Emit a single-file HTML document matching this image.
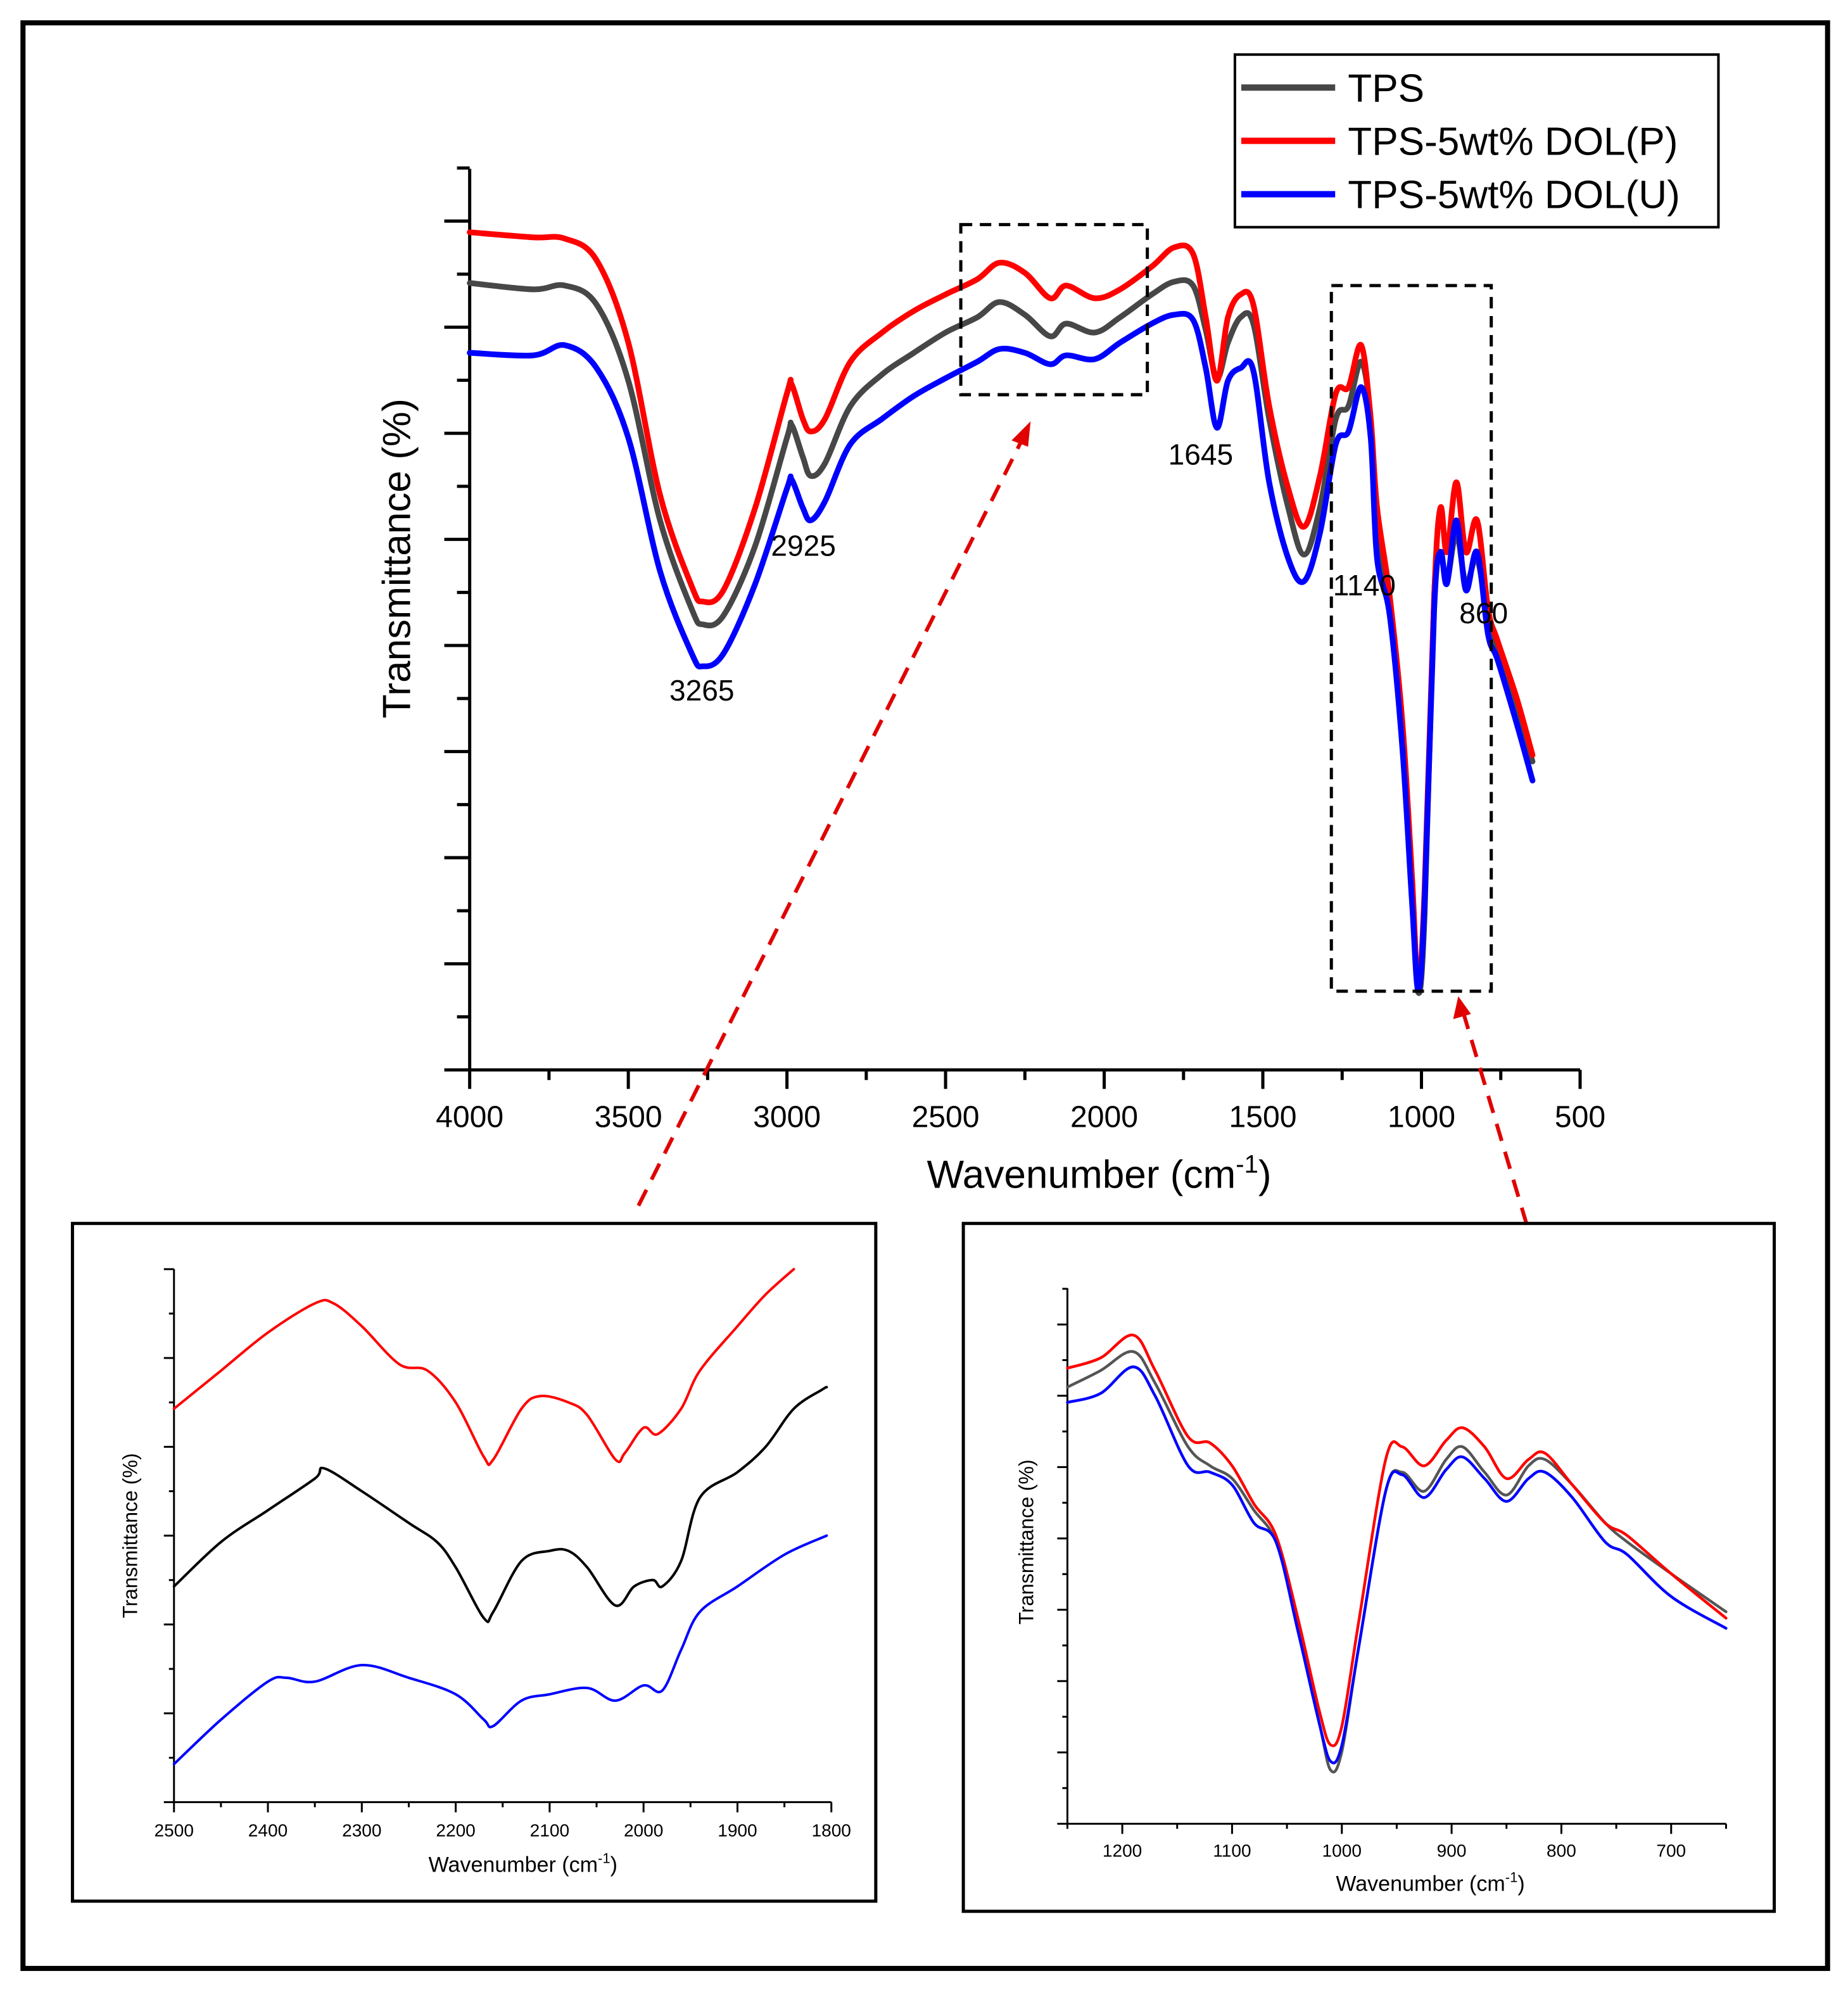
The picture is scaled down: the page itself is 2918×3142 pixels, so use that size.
<!DOCTYPE html>
<html><head><meta charset="utf-8"><style>
html,body{margin:0;padding:0;background:#fff}
svg{display:block}
text{font-family:"Liberation Sans",Arial,sans-serif}
</style></head><body>
<svg id="fig" width="2918" height="3142" viewBox="0 0 1456 1568" xmlns="http://www.w3.org/2000/svg">
<rect x="18" y="18" width="1422" height="1533" fill="none" stroke="#000" stroke-width="4"/>
<g id="main"></g>
<g id="in1"></g>
<g id="in2"></g>
</svg>
<script>
// ---- main chart data ----
const mainX=[4000,3800,3700,3600,3500,3400,3300,3265,3200,3100,3000,2985,2950,2925,2880,2800,2700,2600,2500,2400,2330,2250,2170,2120,2030,1950,1850,1780,1720,1680,1645,1610,1570,1530,1480,1420,1370,1320,1270,1230,1190,1160,1140,1100,1060,1030,1010,990,960,940,920,890,860,825,790,760,700,650];
const mainTPS=[620,615,618,603,543,433,363,351,358,413,498,508,483,468,478,523,548,565,581,593,605,595,578,588,581,593,611,621,618,583,545,573,593,588,513,443,406,443,513,523,558,513,413,363,263,143,61,123,373,408,385,423,383,403,353,333,283,243];
const mainP=[660,656,655,638,573,453,381,369,378,443,533,540,513,503,513,558,581,598,611,623,636,628,608,618,608,615,633,648,643,593,543,593,611,603,523,458,428,468,533,538,571,513,443,373,273,153,65,143,373,443,408,463,408,433,363,338,293,248];
const mainU=[565,563,571,553,498,393,328,318,328,383,458,465,443,433,448,493,513,531,545,558,568,565,556,563,560,573,588,595,591,553,506,543,553,551,463,403,385,423,493,503,538,498,403,358,253,133,63,133,363,408,383,433,378,408,343,323,273,228];
const mainXTicks=[4000,3500,3000,2500,2000,1500,1000,500];
// ---- inset 1 data ----
const in1XP=[2500,2450,2400,2350,2330,2300,2260,2230,2200,2170,2160,2130,2110,2080,2060,2030,2020,2000,1985,1960,1940,1900,1870,1840];
const in1P=[310,340,370,393,393,375,345,340,315,272,270,310,320,315,305,270,275,295,290,310,340,375,400,420];
const in1XT=[2500,2450,2400,2350,2340,2300,2250,2220,2200,2170,2160,2130,2100,2080,2060,2030,2010,1990,1980,1960,1940,1900,1870,1840,1810,1805];
const in1T=[170,205,230,255,263,245,220,205,185,145,150,190,198,198,185,155,170,175,170,190,240,260,280,310,325,327];
const in1XU=[2500,2450,2400,2380,2350,2300,2250,2200,2170,2160,2130,2100,2060,2030,2000,1980,1960,1940,1900,1850,1805];
const in1U=[30,65,95,98,95,108,98,85,65,60,80,85,90,80,92,88,120,150,170,195,210];
const in1Ticks=[2500,2400,2300,2200,2100,2000,1900,1800];
// ---- inset 2 data ----
const in2X=[1250,1220,1190,1170,1140,1120,1100,1080,1060,1040,1020,1010,1000,985,960,945,925,905,890,870,850,830,815,790,760,740,700,650];
const in2T=[344,357,372,347,297,282,272,247,222,157,77,42,57,137,262,277,262,287,297,277,259,282,287,267,237,222,197,167];
const in2P=[359,367,385,357,305,300,282,252,227,162,87,62,77,157,287,297,282,302,312,297,272,287,292,267,237,227,197,162];
const in2U=[332,339,360,337,282,277,267,237,222,152,77,49,62,137,262,275,257,279,289,272,254,272,277,257,222,212,179,154];
const in2Ticks=[1200,1100,1000,900,800,700];

const NS="http://www.w3.org/2000/svg";
function el(parent,tag,attrs,text){const e=document.createElementNS(NS,tag);for(const k in attrs)e.setAttribute(k,attrs[k]);if(text!==undefined)e.textContent=text;parent.appendChild(e);return e;}
function line(g,x1,y1,x2,y2,w,name,extra){const e=el(g,'line',Object.assign({x1,y1,x2,y2,stroke:'#000','stroke-width':w},extra||{}));

return e;}
function series(g,xs,vs,sx,sy,color,w,name){
 const P=xs.map((x,i)=>[sx(x),sy(vs[i])]);
 let d='M'+P[0][0].toFixed(1)+','+P[0][1].toFixed(1);
 for(let i=0;i<P.length-1;i++){const p0=P[Math.max(0,i-1)],p1=P[i],p2=P[i+1],p3=P[Math.min(P.length-1,i+2)];
  const c1=[p1[0]+(p2[0]-p0[0])/6,p1[1]+(p2[1]-p0[1])/6],c2=[p2[0]-(p3[0]-p1[0])/6,p2[1]-(p3[1]-p1[1])/6];
  d+='C'+c1.map(v=>v.toFixed(1)).join(',')+' '+c2.map(v=>v.toFixed(1)).join(',')+' '+p2[0].toFixed(1)+','+p2[1].toFixed(1);}
 const p=el(g,'path',{d,fill:'none',stroke:color,'stroke-width':w,'stroke-linejoin':'round','stroke-linecap':'round'});
 
 }
function txt(g,x,y,s,size,name,extra){const t=el(g,'text',Object.assign({x,y,'font-size':size},extra||{}),s);

return t;}

// ===== main =====
(function(){
const g=document.getElementById('main');
const sx=x=>370+(4000-x)*875/3500, sy=v=>843-v;
line(g,370,133,370,843,2.5,'y-axis');line(g,370,843,1245,843,2.5,'x-axis');
for(let i=0;i<=17;i++){const y=843-i*41.8;line(g,i%2===0?350:360,y,370,y,2.5,'y-tick');}
for(let v=4000;v>=500;v-=250){const x=sx(v);line(g,x,843,x,v%500===0?858:851,2.5,'x-tick');}
mainXTicks.forEach(v=>txt(g,sx(v),888,String(v),24,'x-tick-label',{'text-anchor':'middle'}));
const xt=txt(g,866,936,'Wavenumber (cm',31,'x-axis-title',{'text-anchor':'middle'});
el(xt,'tspan',{dy:-12,'font-size':20},'-1');el(xt,'tspan',{dy:12},')');
txt(g,323,440,'Transmittance (%)',31,'y-axis-title',{'text-anchor':'middle',transform:'rotate(-90 323 440)'});
series(g,mainX,mainTPS,sx,sy,'#474747',4.5,'series-tps');
series(g,mainX,mainP,sx,sy,'#ff0000',4.5,'series-tps-dol-p');
series(g,mainX,mainU,sx,sy,'#0000ff',4.5,'series-tps-dol-u');
[['3265',553,552],['2925',633,438],['1645',946,366],['1140',1075,469],['860',1169,491]].forEach(a=>txt(g,a[1],a[2],a[0],23,'peak-label-'+a[0],{'text-anchor':'middle'}));
const b1=el(g,'rect',{x:757,y:177,width:147,height:134,fill:'none',stroke:'#000','stroke-width':2.5,'stroke-dasharray':'9,6'});


const b2=el(g,'rect',{x:1049,y:225,width:126,height:556,fill:'none',stroke:'#000','stroke-width':2.5,'stroke-dasharray':'9,6'});


line(g,503,950,806,345,3,'arrow-left',{stroke:'#e00000','stroke-dasharray':'14,9'});
el(g,'path',{d:'M812,332 L797,347 L810,352 Z',fill:'#e00000'});
line(g,1203,965,1153,798,3,'arrow-right',{stroke:'#e00000','stroke-dasharray':'14,9'});
el(g,'path',{d:'M1149,785 L1145,803 L1159,799 Z',fill:'#e00000'});
const lg=el(g,'g',{});


el(lg,'rect',{x:973,y:43,width:381,height:136,fill:'#fff',stroke:'#000','stroke-width':2});
[['TPS','#474747',69],['TPS-5wt% DOL(P)','#ff0000',111],['TPS-5wt% DOL(U)','#0000ff',153]].forEach((e,i)=>{
 line(lg,978,e[2],1052,e[2],5,'legend-swatch-'+i,{stroke:e[1]});
 txt(lg,1062,e[2]+11,e[0],31,'legend-entry-'+i);});
})();

// ===== inset 1 =====
(function(){
const g=document.getElementById('in1');
el(g,'rect',{x:57,y:964,width:633,height:534,fill:'none',stroke:'#000','stroke-width':2.5});
const sx=x=>137+(2500-x)*518/700, sy=v=>1420-v;
line(g,137,1000,137,1420,1.5,'inset1-y-axis');line(g,137,1420,655,1420,1.5,'inset1-x-axis');
for(let i=0;i<=12;i++){const y=1420-i*35;line(g,i%2===0?129:133,y,137,y,1.5,'inset1-y-tick');}
for(let v=2500;v>=1800;v-=50){const x=sx(v);line(g,x,1420,x,v%100===0?1428:1424,1.5,'inset1-x-tick');}
in1Ticks.forEach(v=>txt(g,sx(v),1447,String(v),14,'inset1-x-tick-label',{'text-anchor':'middle'}));
const xt=txt(g,412,1475,'Wavenumber (cm',17,'inset1-x-axis-title',{'text-anchor':'middle'});
el(xt,'tspan',{dy:-7,'font-size':11},'-1');el(xt,'tspan',{dy:7},')');
txt(g,108,1210,'Transmittance (%)',16,'inset1-y-axis-title',{'text-anchor':'middle',transform:'rotate(-90 108 1210)'});
series(g,in1XP,in1P,sx,sy,'#ff0000',2,'inset1-series-p');
series(g,in1XT,in1T,sx,sy,'#000',2,'inset1-series-tps');
series(g,in1XU,in1U,sx,sy,'#0000ff',2,'inset1-series-u');
})();

// ===== inset 2 =====
(function(){
const g=document.getElementById('in2');
el(g,'rect',{x:759,y:964,width:639,height:542,fill:'none',stroke:'#000','stroke-width':2.5});
const sx=x=>841+(1250-x)*519/600, sy=v=>1437-v;
line(g,841,1015,841,1437,1.5,'inset2-y-axis');line(g,841,1437,1360,1437,1.5,'inset2-x-axis');
for(let i=0;i<=15;i++){const y=1437-i*28.1;line(g,i%2===0?833:837,y,841,y,1.5,'inset2-y-tick');}
for(let v=1250;v>=650;v-=50){const x=sx(v);line(g,x,1437,x,v%100===0?1445:1441,1.5,'inset2-x-tick');}
in2Ticks.forEach(v=>txt(g,sx(v),1463,String(v),14,'inset2-x-tick-label',{'text-anchor':'middle'}));
const xt=txt(g,1127,1490,'Wavenumber (cm',17,'inset2-x-axis-title',{'text-anchor':'middle'});
el(xt,'tspan',{dy:-7,'font-size':11},'-1');el(xt,'tspan',{dy:7},')');
txt(g,814,1215,'Transmittance (%)',16,'inset2-y-axis-title',{'text-anchor':'middle',transform:'rotate(-90 814 1215)'});
series(g,in2X,in2T,sx,sy,'#555',2.2,'inset2-series-tps');
series(g,in2X,in2P,sx,sy,'#ff0000',2.2,'inset2-series-p');
series(g,in2X,in2U,sx,sy,'#0000ff',2.2,'inset2-series-u');
})();
</script>
</body></html>
